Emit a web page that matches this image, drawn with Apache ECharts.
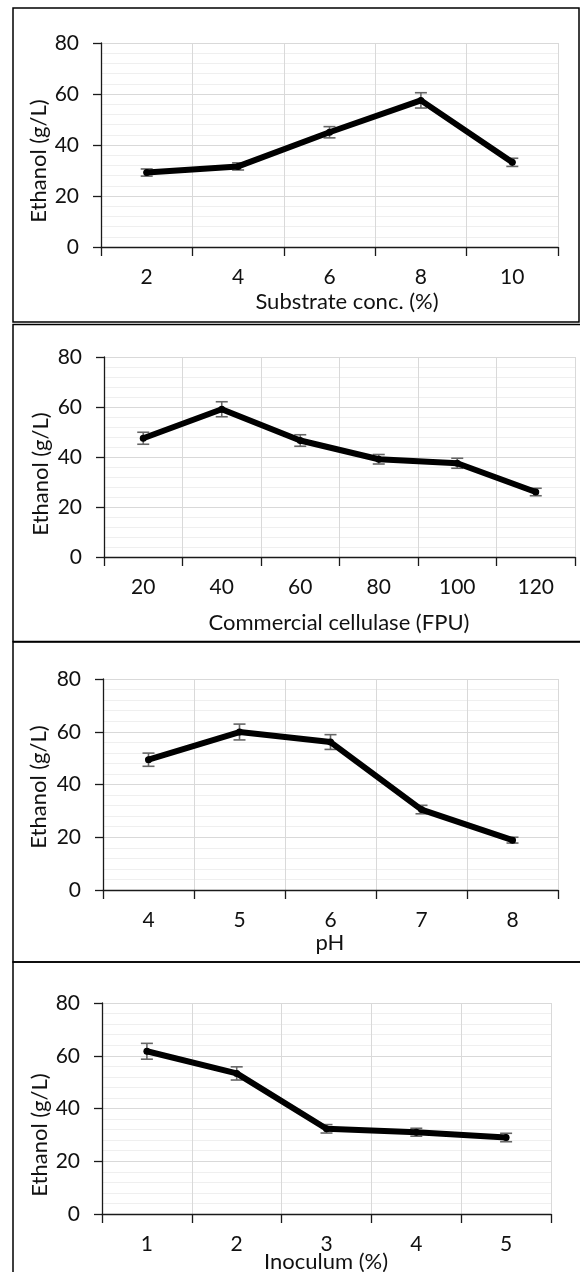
<!DOCTYPE html>
<html>
<head>
<meta charset="utf-8">
<script src="https://cdn.jsdelivr.net/npm/echarts@6/dist/echarts.min.js"></script>
<style>
  html, body { margin: 0; padding: 0; background: #fff; }
  #chart { width: 580px; height: 1272px; }
</style>
</head>
<body>
<div id="chart"></div>
<script>
// Ethanol yield (g/L) versus four fermentation parameters
const substrateCats = ['2', '4', '6', '8', '10'];
const substrateMean = [29.2, 31.6, 45.0, 57.5, 33.2];
const substrateErr  = [1.4, 1.4, 2.2, 3.0, 1.6];

const cellulaseCats = ['20', '40', '60', '80', '100', '120'];
const cellulaseMean = [47.5, 59.1, 46.6, 39.1, 37.5, 26.0];
const cellulaseErr  = [2.4, 3.0, 2.3, 1.9, 2.0, 1.5];

const phCats = ['4', '5', '6', '7', '8'];
const phMean = [49.4, 59.9, 56.1, 30.5, 18.9];
const phErr  = [2.5, 3.0, 2.8, 1.6, 1.1];

const inoculumCats = ['1', '2', '3', '4', '5'];
const inoculumMean = [61.7, 53.3, 32.3, 31.0, 29.0];
const inoculumErr  = [3.0, 2.5, 1.6, 1.5, 1.6];

const yTicks = { min: 0, max: 80, interval: 20 };
const yTitle = 'Ethanol (g/L)';

const panels = [
  { cats: substrateCats, mean: substrateMean, err: substrateErr, xTitle: 'Substrate conc. (%)',
    grid: { left: 101, top: 43, width: 457, height: 204 },
    box: [13, 8, 566, 314], xTitlePos: [347, 302], yTitlePos: [39, 161] },
  { cats: cellulaseCats, mean: cellulaseMean, err: cellulaseErr, xTitle: 'Commercial cellulase (FPU)',
    grid: { left: 104, top: 357, width: 471, height: 200 },
    box: [13, 324.5, 590, 317], xTitlePos: [339, 623], yTitlePos: [41, 474] },
  { cats: phCats, mean: phMean, err: phErr, xTitle: 'pH',
    grid: { left: 103, top: 679, width: 455, height: 211 },
    box: [13, 642, 590, 320], xTitlePos: [330, 943], yTitlePos: [39, 787] },
  { cats: inoculumCats, mean: inoculumMean, err: inoculumErr, xTitle: 'Inoculum (%)',
    grid: { left: 102, top: 1003, width: 449, height: 211 },
    box: [13, 962, 590, 330], xTitlePos: [326, 1262], yTitlePos: [40, 1135] }
];

const FONT = 'Lato';
const TEXT = '#111';

const grids = [], xAxes = [], yAxes = [], series = [], graphics = [];

panels.forEach((p, i) => {
  grids.push(Object.assign({ containLabel: false }, p.grid));
  xAxes.push({
    type: 'category', gridIndex: i, data: p.cats, boundaryGap: true,
    axisLine: { show: true, lineStyle: { color: '#1a1a1a', width: 1.3 } },
    axisTick: { show: true, alignWithLabel: false, length: 9, lineStyle: { color: '#1a1a1a', width: 1.3 } },
    axisLabel: { color: TEXT, fontFamily: FONT, fontSize: 21, margin: 20 },
    splitLine: { show: true, lineStyle: { color: '#d9d9d9', width: 1 } }
  });
  yAxes.push({
    type: 'value', gridIndex: i, min: yTicks.min, max: yTicks.max, interval: yTicks.interval,
    axisLine: { show: true, lineStyle: { color: '#1a1a1a', width: 1.3 } },
    axisTick: { show: true, length: 8, lineStyle: { color: '#1a1a1a', width: 1.3 } },
    axisLabel: { color: TEXT, fontFamily: FONT, fontSize: 21, margin: 22 },
    splitLine: { show: true, lineStyle: { color: '#d9d9d9', width: 1 } },
    minorTick: { show: false, splitNumber: 5 },
    minorSplitLine: { show: true, lineStyle: { color: '#efefef', width: 1 } }
  });

  // error bars: mean ± standard deviation
  series.push({
    type: 'custom', xAxisIndex: i, yAxisIndex: i, z: 2,
    data: p.mean.map((m, k) => [k, m + p.err[k], m - p.err[k]]),
    renderItem: (params, api) => {
      const top = api.coord([api.value(0), api.value(1)]);
      const bot = api.coord([api.value(0), api.value(2)]);
      const hw = 6;
      const style = { stroke: '#666666', lineWidth: 1.6 };
      return {
        type: 'group',
        children: [
          { type: 'line', shape: { x1: top[0], y1: top[1], x2: bot[0], y2: bot[1] }, style },
          { type: 'line', shape: { x1: top[0] - hw, y1: top[1], x2: top[0] + hw, y2: top[1] }, style },
          { type: 'line', shape: { x1: bot[0] - hw, y1: bot[1], x2: bot[0] + hw, y2: bot[1] }, style }
        ]
      };
    }
  });

  series.push({
    type: 'line', xAxisIndex: i, yAxisIndex: i, z: 3,
    data: p.mean,
    symbol: 'circle', symbolSize: 7,
    itemStyle: { color: '#000' },
    lineStyle: { color: '#000', width: 6, cap: 'round', join: 'round' }
  });

  graphics.push({
    type: 'rect', silent: true,
    shape: { x: p.box[0], y: p.box[1], width: p.box[2], height: p.box[3] },
    style: { fill: 'none', stroke: '#000', lineWidth: 1.5 }
  });
  graphics.push({
    type: 'text', x: p.xTitlePos[0], y: p.xTitlePos[1],
    style: { text: p.xTitle, fill: TEXT, font: '22px "' + FONT + '"', align: 'center', verticalAlign: 'middle' }
  });
  graphics.push({
    type: 'text', x: p.yTitlePos[0], y: p.yTitlePos[1], rotation: Math.PI / 2,
    style: { text: yTitle, fill: TEXT, font: '22px "' + FONT + '"', align: 'center', verticalAlign: 'middle' }
  });
});

const chart = echarts.init(document.getElementById('chart'), null, { renderer: 'canvas' });
chart.setOption({
  animation: false,
  backgroundColor: '#fff',
  grid: grids,
  xAxis: xAxes,
  yAxis: yAxes,
  series: series,
  graphic: graphics
});
</script>
</body>
</html>
